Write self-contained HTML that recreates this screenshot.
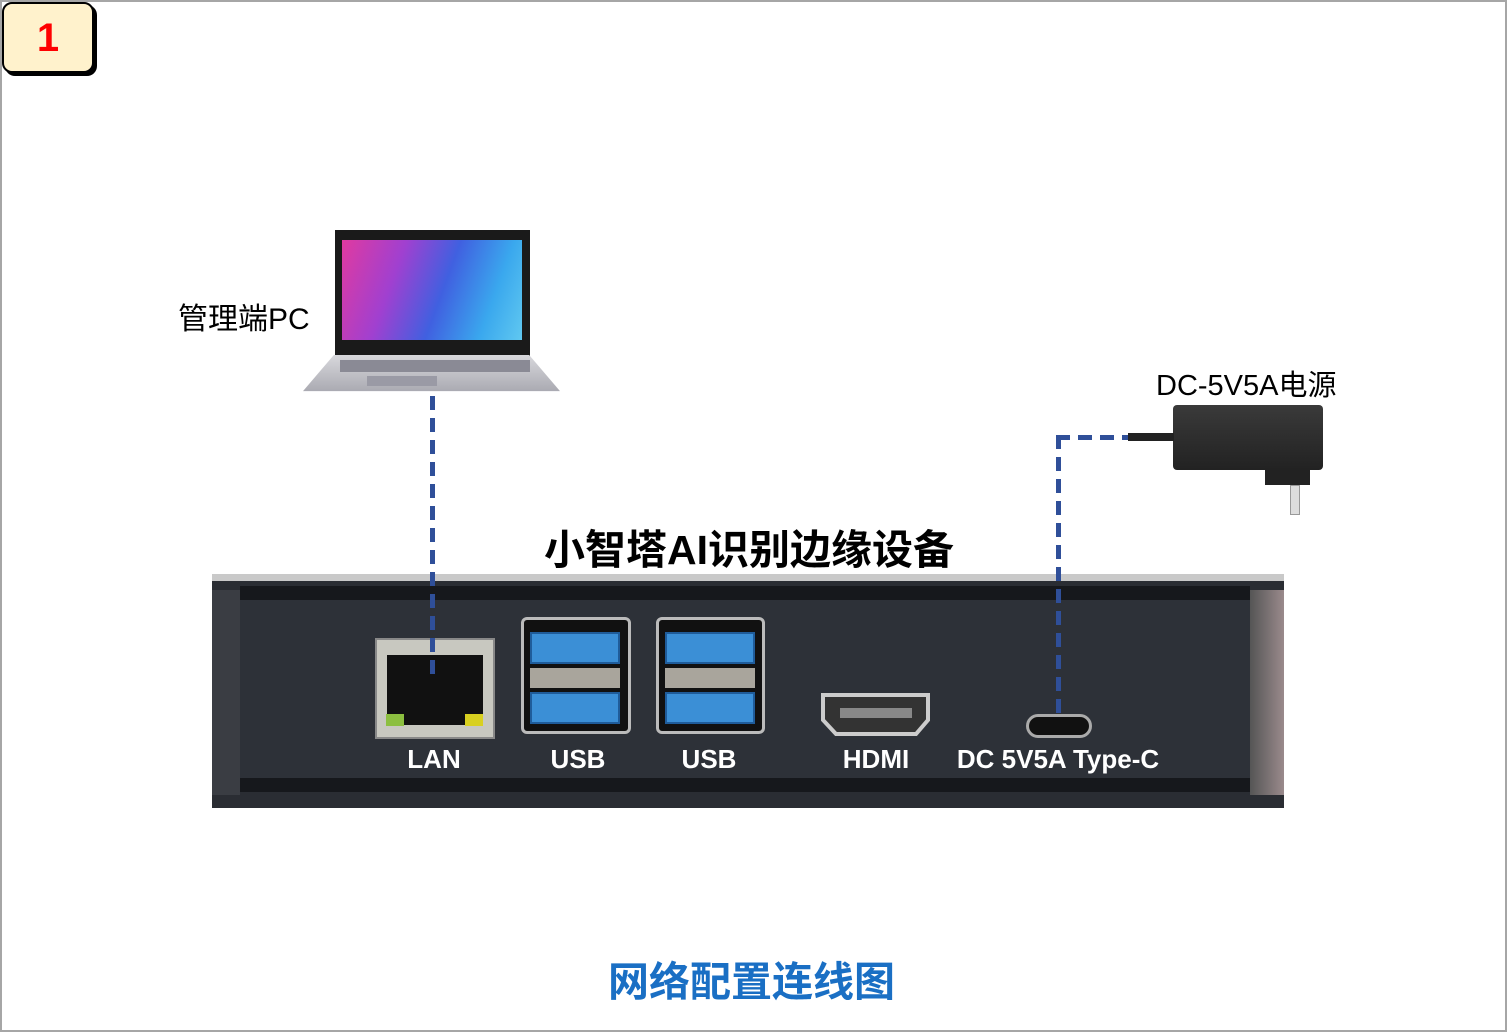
<!DOCTYPE html>
<html><head><meta charset="utf-8">
<style>
*{margin:0;padding:0;box-sizing:border-box}
body{width:1507px;height:1032px;background:#fff;position:relative;overflow:hidden;font-family:"Liberation Sans","Noto Sans CJK SC",sans-serif}
.a{position:absolute}
.frame{left:0;top:0;width:1507px;height:1032px;border:2px solid #a6a6a6}
.badge{left:2px;top:2px;width:92px;height:71px;background:#fff2cc;border:2px solid #000;border-radius:10px;box-shadow:3px 3px 0 #000;color:#f00;font-weight:bold;font-size:40px;text-align:center;line-height:68px}
.lbl{color:#000;font-size:29px;white-space:nowrap}
.white{color:#fff;font-weight:bold;font-size:26px;white-space:nowrap;transform:translateX(-50%)}
.dash{background:repeating-linear-gradient(to bottom,#2f4f99 0 14px,transparent 14px 22px)}
.dashh{background:repeating-linear-gradient(to right,#2f4f99 0 14px,transparent 14px 22px)}
.usb{background:#111;border:3px solid #bbb;border-radius:6px}
.usbp{background:#3b8fd6;border:2px solid #1f5c9a}
</style></head><body>
<div class="a frame"></div>
<div class="a badge">1</div>

<!-- laptop -->
<div class="a" style="left:335px;top:230px;width:195px;height:126px;background:#1a1a1a"></div>
<div class="a" style="left:342px;top:240px;width:180px;height:100px;background:linear-gradient(110deg,#e03aa0 0%,#a040d0 30%,#4060e0 55%,#3aa8ee 80%,#60c8f0 100%)"></div>
<div class="a" style="left:303px;top:355px;width:257px;height:38px;background:linear-gradient(#d8d8dc,#a8a8b0);clip-path:polygon(12% 0,88% 0,100% 95%,0 95%)"></div>
<div class="a" style="left:340px;top:360px;width:190px;height:12px;background:#8a8a95"></div>
<div class="a" style="left:367px;top:376px;width:70px;height:10px;background:#9a9aa5"></div>
<div class="a lbl" style="left:178px;top:294px;font-size:30px">管理端PC</div>

<!-- adapter -->
<div class="a lbl" style="left:1156px;top:362px;font-size:29px">DC-5V5A电源</div>
<div class="a" style="left:1173px;top:405px;width:150px;height:65px;background:linear-gradient(#3a3a3a,#222);border-radius:4px"></div>
<div class="a" style="left:1265px;top:470px;width:45px;height:15px;background:#222"></div>
<div class="a" style="left:1290px;top:485px;width:10px;height:30px;background:#ddd;border:1px solid #999"></div>
<div class="a" style="left:1128px;top:433px;width:46px;height:8px;background:#222"></div>

<!-- device -->
<div class="a" style="left:212px;top:574px;width:1072px;height:234px;background:#c9c9c9"></div>
<div class="a" style="left:212px;top:574px;width:1072px;height:234px;background:#2a2d33;clip-path:polygon(0 3%,100% 3%,100% 100%,0 100%)"></div>
<div class="a" style="left:240px;top:586px;width:1010px;height:206px;background:#2d3138;border-top:14px solid #16181c;border-bottom:14px solid #16181c"></div>
<div class="a" style="left:1250px;top:590px;width:34px;height:205px;background:linear-gradient(90deg,#555,#9a8a8c)"></div>
<div class="a" style="left:212px;top:590px;width:28px;height:205px;background:#3a3d43"></div>

<div class="a" style="left:544px;top:516px;font-size:41px;font-weight:bold;color:#000;white-space:nowrap">小智塔AI识别边缘设备</div>

<!-- LAN -->
<div class="a" style="left:375px;top:638px;width:120px;height:101px;background:#c8c8c0;border:2px solid #888"></div>
<div class="a" style="left:387px;top:655px;width:96px;height:70px;background:#111"></div>
<div class="a" style="left:386px;top:714px;width:18px;height:12px;background:#8cbf40"></div>
<div class="a" style="left:465px;top:714px;width:18px;height:12px;background:#d8d020"></div>
<!-- USB -->
<div class="a usb" style="left:521px;top:617px;width:110px;height:117px"></div>
<div class="a usbp" style="left:530px;top:632px;width:90px;height:32px"></div>
<div class="a" style="left:530px;top:668px;width:90px;height:20px;background:#a9a59c"></div>
<div class="a usbp" style="left:530px;top:692px;width:90px;height:32px"></div>
<div class="a usb" style="left:656px;top:617px;width:109px;height:117px"></div>
<div class="a usbp" style="left:665px;top:632px;width:90px;height:32px"></div>
<div class="a" style="left:665px;top:668px;width:90px;height:20px;background:#a9a59c"></div>
<div class="a usbp" style="left:665px;top:692px;width:90px;height:32px"></div>
<!-- HDMI -->
<svg class="a" style="left:818px;top:690px" width="116" height="48"><path d="M5 5 H110 V30 L98 44 H18 L5 30 Z" fill="#333" stroke="#ccc" stroke-width="4"/><rect x="22" y="18" width="72" height="10" fill="#888"/></svg>
<!-- Type-C -->
<div class="a" style="left:1026px;top:714px;width:66px;height:24px;background:#111;border:3px solid #aaa;border-radius:12px"></div>

<div class="a white" style="left:434px;top:744px">LAN</div>
<div class="a white" style="left:578px;top:744px">USB</div>
<div class="a white" style="left:709px;top:744px">USB</div>
<div class="a white" style="left:876px;top:744px">HDMI</div>
<div class="a white" style="left:1058px;top:744px">DC 5V5A Type-C</div>

<!-- connectors -->
<div class="a dash" style="left:430px;top:396px;width:5px;height:280px"></div>
<div class="a dashh" style="left:1056px;top:435px;width:72px;height:5px"></div>
<div class="a dash" style="left:1056px;top:435px;width:5px;height:280px"></div>

<div class="a" style="left:608px;top:948px;font-size:41px;font-weight:bold;color:#1a6fc4;white-space:nowrap">网络配置连线图</div>
</body></html>
